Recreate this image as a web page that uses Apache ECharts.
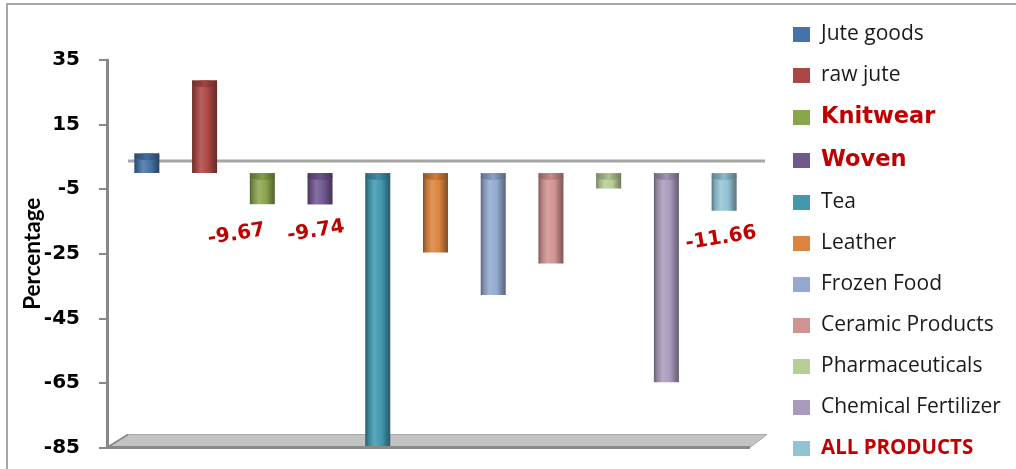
<!DOCTYPE html>
<html><head><meta charset="utf-8">
<script src="https://cdn.jsdelivr.net/npm/echarts@6/dist/echarts.min.js"></script>
<style>html,body{margin:0;padding:0;background:#fff}#c{width:1016px;height:469px}</style>
</head><body><div id="c"></div>
<script>
// ---- data ----
const categories = ['Jute goods','raw jute','Knitwear','Woven','Tea','Leather','Frozen Food','Ceramic Products','Pharmaceuticals','Chemical Fertilizer','ALL PRODUCTS'];
const values = [6.1, 28.7, -9.67, -9.74, -84.5, -24.6, -37.8, -28.0, -4.8, -64.8, -11.66];
const colors = ['#4572A7','#AA4643','#89A54E','#71588F','#4198AF','#DB843D','#93A9CF','#D19392','#B9CD96','#A99BBD','#92C3D4'];
const yTicks = [-85, -65, -45, -25, -5, 15, 35];
const labeledItems = ['Knitwear','Woven','ALL PRODUCTS'];
const highlightBig = ['Knitwear','Woven'];
const highlightCaps = ['ALL PRODUCTS'];

// ---- styling helpers ----
const GRID = {left:118, top:60, right:263, bottom:21.5};
const labelOffsets = {'Knitwear':[-28,1], 'Woven':[-6,1], 'ALL PRODUCTS':[-5,2]};
function shade(hex, f){
  const n = parseInt(hex.slice(1),16);
  let r = n>>16, g = (n>>8)&255, b = n&255;
  if (f < 1){ r*=f; g*=f; b*=f; }
  else { const k=f-1; r=r+(255-r)*k; g=g+(255-g)*k; b=b+(255-b)*k; }
  const h = v => Math.round(Math.max(0,Math.min(255,v))).toString(16).padStart(2,'0');
  return '#'+h(r)+h(g)+h(b);
}
function cyl(c){
  return new echarts.graphic.LinearGradient(0,0,1,0,[
    {offset:0, color:shade(c,0.6)},
    {offset:0.12, color:shade(c,0.85)},
    {offset:0.35, color:shade(c,1.15)},
    {offset:0.65, color:c},
    {offset:0.88, color:shade(c,0.72)},
    {offset:1, color:shade(c,0.6)}
  ]);
}

const series = categories.map((name, i) => {
  const data = categories.map((_, j) => j === i ? values[i] : '-');
  const labeled = labeledItems.includes(name);
  return {
    name, type:'bar', stack:'all', barWidth:25, data,
    itemStyle:{color:cyl(colors[i])},
    label: labeled ? {
      show:true, position:'bottom', distance:15, rotate:9,
      offset: labelOffsets[name] || [0,0],
      formatter: p => p.value.toFixed(2),
      color:'#C00000', fontFamily:'DejaVu Sans', fontWeight:'bold', fontSize:20
    } : {show:false}
  };
});
series.push({
  name:'caps', type:'pictorialBar', symbol:'circle', z:3,
  symbolSize:[25,7], silent:true,
  data: values.map((v,i) => ({
    value:v,
    symbolPosition: v < 0 ? 'start' : 'end',
    itemStyle:{color:new echarts.graphic.LinearGradient(0,0,1,0,[
      {offset:0,color:shade(colors[i],0.65)},
      {offset:0.5,color:shade(colors[i],0.95)},
      {offset:1,color:shade(colors[i],0.6)}])}
  }))
});

function legendFmt(name){
  const key = highlightBig.includes(name) ? 'k' : (highlightCaps.includes(name) ? 'a' : 'n');
  return '{' + key + '|' + name + '}';
}

const chart = echarts.init(document.getElementById('c'), null, {renderer:'canvas'});
const option = {
  animation:false,
  backgroundColor:'#ffffff',
  grid:{left:GRID.left, top:GRID.top, right:GRID.right, bottom:GRID.bottom, containLabel:false},
  xAxis:{type:'category', data:categories, axisLine:{show:false}, axisTick:{show:false}, axisLabel:{show:false}, splitLine:{show:false}},
  yAxis:{
    type:'value', min:yTicks[0], max:yTicks[yTicks.length-1], interval:yTicks[1]-yTicks[0],
    offset:11,
    name:'Percentage', nameLocation:'middle', nameGap:63, nameMoveOverlap:false,
    nameTextStyle:{fontFamily:'Lato', fontWeight:'bold', fontSize:22.5, color:'#000'},
    axisLine:{show:true, lineStyle:{color:'#878787', width:3}},
    axisTick:{show:true, length:8, lineStyle:{color:'#878787', width:2}},
    axisLabel:{margin:27, fontFamily:'DejaVu Sans', fontWeight:'bold', fontSize:20, color:'#000'},
    splitLine:{show:false}
  },
  legend:{
    orient:'vertical', left:793, top:24, padding:0, height:445,
    itemWidth:17, itemHeight:15, itemGap:20, icon:'rect',
    data: categories.map((n,i)=>({name:n, itemStyle:{color:colors[i]}})),
    formatter: legendFmt,
    textStyle:{
      rich:{
        n:{fontFamily:'Open Sans', fontSize:21, color:'#1a1a1a', lineHeight:22, padding:[0,0,0,6]},
        k:{fontFamily:'DejaVu Sans', fontWeight:'bold', fontSize:22.5, color:'#C00000', lineHeight:22, padding:[0,0,0,6]},
        a:{fontFamily:'Open Sans', fontWeight:'bold', fontSize:20.5, color:'#C00000', lineHeight:22, padding:[0,0,0,6]}
      }
    }
  },
  series
};
chart.setOption(option);

// chart furniture (3D floor and back zero line) derived from the axis scale
const W = 1016;
const y0 = chart.convertToPixel({yAxisIndex:0}, 0);
const yMin = chart.convertToPixel({yAxisIndex:0}, yTicks[0]);
const gL = GRID.left, gR = W - GRID.right;
chart.setOption({graphic:[
  {type:'rect', z:-10, shape:{x:7, y:4, width:1100, height:600}, style:{fill:'none', stroke:'#a6a6a6', lineWidth:2}},
  {type:'polygon', z:-5, shape:{points:[[gL-11,yMin],[gR-3,yMin],[gR+14,yMin-13],[gL+10,yMin-13]]},
    style:{fill:'#c3c3c3', stroke:'#a8a8a8', lineWidth:1}},
  {type:'line', z:-4, shape:{x1:gL-11, y1:yMin, x2:gR-3, y2:yMin}, style:{stroke:'#8a8a8a', lineWidth:3}},
  {type:'line', z:-4, shape:{x1:gL-11, y1:yMin, x2:gL+10, y2:yMin-13}, style:{stroke:'#8a8a8a', lineWidth:2}},
  {type:'line', z:-4, shape:{x1:gL+10, y1:y0-12, x2:gR+12, y2:y0-12}, style:{stroke:'#a6a6a6', lineWidth:3}}
]});
</script></body></html>
